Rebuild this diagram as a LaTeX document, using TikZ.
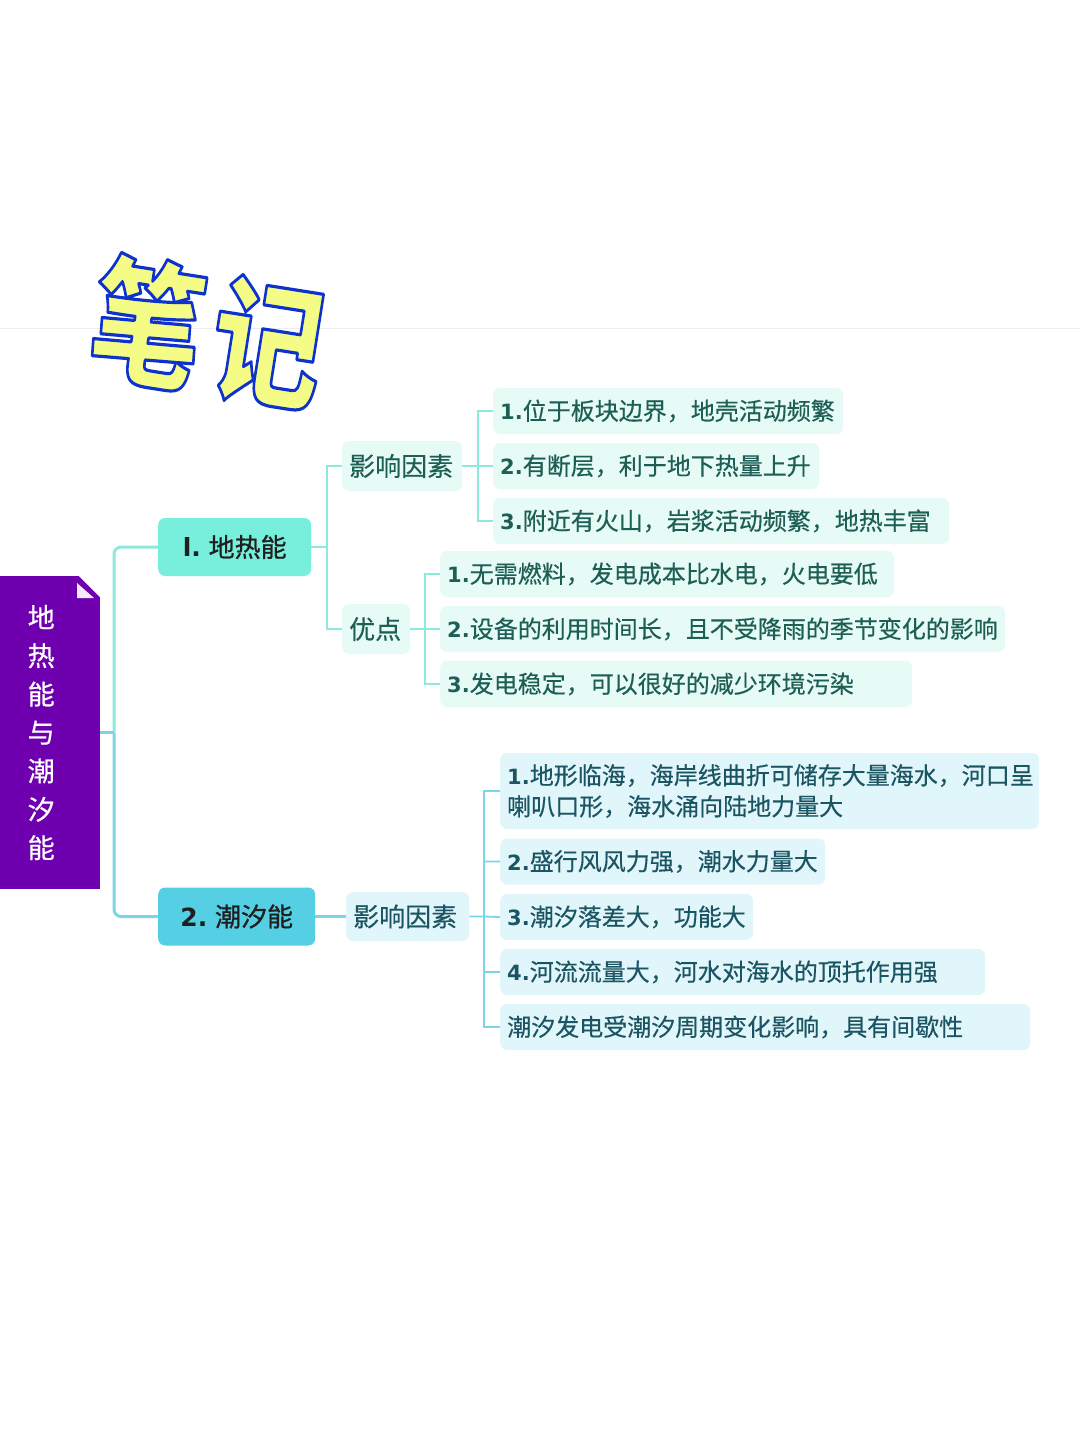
\documentclass[tikz,border=0pt]{standalone}
\usepackage{fontspec}
\setmainfont{Noto Sans CJK SC}
\newfontfamily\bodyf[FakeBold=0.4]{Noto Sans CJK SC}
\newfontfamily\rootf[FakeBold=0.6]{Noto Sans CJK SC}
\newfontfamily\headf[FakeBold=0.9]{Noto Sans CJK SC}
\newfontfamily\titlef{Noto Sans CJK SC Black}
\newfontfamily\numf{DejaVu Sans}[BoldFont=* Bold]
\newcommand{\nm}[1]{{\numf\bfseries\fontsize{21}{26}\selectfont #1}}
\newcommand{\topn}[1]{{\numf\bfseries\fontsize{25}{31}\selectfont #1}}
\definecolor{rootc}{HTML}{6F00B0}
\definecolor{topA}{HTML}{78EFDD}
\definecolor{topB}{HTML}{55CFE3}
\definecolor{lineA}{HTML}{8CEADD}
\definecolor{lineB}{HTML}{7AD6E6}
\definecolor{fillA}{HTML}{E6FAF6}
\definecolor{fillB}{HTML}{E1F6FA}
\definecolor{txtA}{HTML}{1D5F54}
\definecolor{txtB}{HTML}{1B5563}
\tikzset{
  x=1pt,y=-1pt,
  box/.style={inner ysep=0pt,inner xsep=7pt,rounded corners=7pt,anchor=west,align=left},
  leafA/.style={box,fill=fillA,text=txtA,font=\bodyf\fontsize{24}{31}\selectfont,minimum height=46pt},
  leafB/.style={leafA,fill=fillB,text=txtB},
  subA/.style={box,fill=fillA,text=txtA,font=\bodyf\fontsize{26}{31}\selectfont,minimum height=50pt},
  subB/.style={subA,fill=fillB,text=txtB},
  topic/.style={inner sep=0pt,rounded corners=7pt,anchor=west,align=center,text=black!88,font=\headf\fontsize{26}{31}\selectfont,minimum height=58pt},
  trunk/.style={line width=3pt,rounded corners=7pt},
  linkA/.style={lineA,line width=2pt},
  linkB/.style={lineB,line width=1.8pt},
}
\begin{document}
\begin{tikzpicture}
\useasboundingbox (0,0) rectangle (1080,1440);
\fill[white] (0,0) rectangle (1080,1440);
\draw[black!7,line width=1pt] (0,328) -- (1080,328);

% title
\node[inner sep=0pt,rotate=-9,yscale=1.22,font=\titlef\fontsize{112}{120}\selectfont] (title) at (208,332)
  {\special{pdf:code q 2 Tr 1 j 2.6 w 0.05 0.2 0.8 RG 0.96 0.99 0.52 rg}笔\hspace{10pt}记\special{pdf:code Q}};

% root
\node[fill=rootc,text=white,anchor=west,minimum height=313pt,inner ysep=0pt,inner xsep=27.5pt,text width=45pt,
      align=left,font=\rootf\fontsize{27}{38.4}\selectfont] (root) at (0,732.5) {地\\热\\能\\与\\潮\\汐\\能};
\fill[white] (78,575) -- (101,575) -- (101,598) -- cycle;
\fill[white!92!rootc] (77,583) -- (77,598) -- (94,598) -- cycle;

% topics
\node[topic,fill=topA,minimum width=153pt] (t1) at (158,547) {\topn{l.} 地热能};
\node[topic,fill=topB,minimum width=157pt] (t2) at (158,916.5) {\topn{2.} 潮汐能};

% subs
\node[subA,text width=106pt] (s1) at (342,466) {影响因素};
\node[subA,text width=54pt] (s2) at (342,629) {优点};
\node[subB,text width=109pt,minimum height=49pt] (s3) at (346,916.5) {影响因素};

% leaves, group 1
\node[leafA,text width=336pt] (a1) at (493,411) {\nm{1.}位于板块边界，地壳活动频繁};
\node[leafA,text width=312pt] (a2) at (493,466) {\nm{2.}有断层，利于地下热量上升};
\node[leafA,text width=442pt] (a3) at (493,521) {\nm{3.}附近有火山，岩浆活动频繁，地热丰富};
% group 2
\node[leafA,text width=440pt] (b1) at (440,574) {\nm{1.}无需燃料，发电成本比水电，火电要低};
\node[leafA,text width=551pt] (b2) at (440,629) {\nm{2.}设备的利用时间长，且不受降雨的季节变化的影响};
\node[leafA,text width=458pt] (b3) at (440,684) {\nm{3.}发电稳定，可以很好的减少环境污染};
% group 3
\node[leafB,text width=525pt,minimum height=76pt] (c1) at (500,791) {\nm{1.}地形临海，海岸线曲折可储存大量海水，河口呈\\喇叭口形，海水涌向陆地力量大};
\node[leafB,text width=311pt] (c2) at (500,861.5) {\nm{2.}盛行风风力强，潮水力量大};
\node[leafB,text width=239pt] (c3) at (500,917) {\nm{3.}潮汐落差大，功能大};
\node[leafB,text width=471pt] (c4) at (500,972) {\nm{4.}河流流量大，河水对海水的顶托作用强};
\node[leafB,text width=516pt] (c5) at (500,1027) {潮汐发电受潮汐周期变化影响，具有间歇性};

% connectors
\coordinate (j0) at (114,732.5);
\coordinate (j1) at (327,547);
\coordinate (j2) at (478,466);
\coordinate (j3) at (425,629);
\coordinate (j4) at (484,916.5);

\draw[trunk,lineB] (j0) |- (t2.west);
\draw[trunk,lineA] (j0) |- (t1.west);
\draw[lineB,line width=3pt] (root.east) -- (j0);
\draw[linkA] (t1.east) -- (j1) |- (s1.west);
\draw[linkA] (j1) |- (s2.west);
\draw[linkA,line width=1.6pt] (s1.east) -- (j2) (j2) |- (a1.west) (j2) -- (a2.west) (j2) |- (a3.west);
\draw[linkA,line width=1.6pt] (s2.east) -- (j3) (j3) |- (b1.west) (j3) -- (b2.west) (j3) |- (b3.west);
\draw[lineB,line width=2.6pt] (t2.east) -- (s3.west);
\draw[linkB] (s3.east) -- (j4) (j4) |- (c1.west) (j4) |- (c2.west) (j4) -- (c3.west) (j4) |- (c4.west) (j4) |- (c5.west);
\end{tikzpicture}
\end{document}
